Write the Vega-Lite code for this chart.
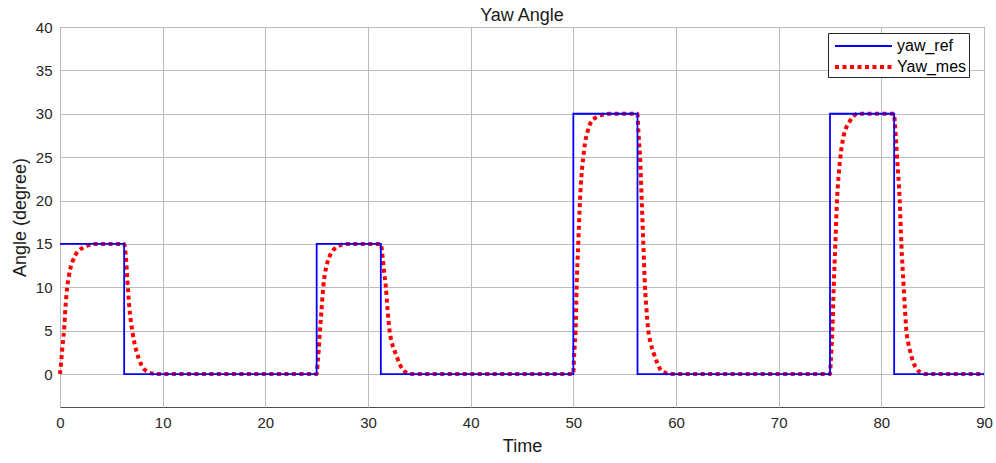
{
  "$schema": "https://vega.github.io/schema/vega-lite/v6.json",
  "width": 924,
  "height": 380,
  "autosize": {"type": "none"},
  "padding": {"left": 60, "top": 27, "right": 12, "bottom": 56},
  "background": "white",
  "title": {
    "text": "Yaw Angle",
    "fontSize": 18,
    "fontWeight": "normal",
    "font": "Liberation Sans",
    "color": "#1a1a1a",
    "offset": -5
  },
  "config": {
    "view": {"stroke": "#4d4d4d", "strokeWidth": 1},
    "axis": {
      "labelFont": "Liberation Sans",
      "labelFontSize": 15,
      "labelColor": "#262626",
      "titleFont": "Liberation Sans",
      "titleFontSize": 18,
      "titleFontWeight": "normal",
      "titleColor": "#1a1a1a",
      "gridColor": "#bdbdbd",
      "gridWidth": 1,
      "domain": false,
      "ticks": false
    }
  },
  "datasets": {
    "yaw": [
      {"t": 0, "angle": 15, "series": "yaw_ref"},
      {"t": 6.25, "angle": 0, "series": "yaw_ref"},
      {"t": 25, "angle": 15, "series": "yaw_ref"},
      {"t": 31.25, "angle": 0, "series": "yaw_ref"},
      {"t": 50, "angle": 30, "series": "yaw_ref"},
      {"t": 56.25, "angle": 0, "series": "yaw_ref"},
      {"t": 75, "angle": 30, "series": "yaw_ref"},
      {"t": 81.25, "angle": 0, "series": "yaw_ref"},
      {"t": 90, "angle": 0, "series": "yaw_ref"},

      {"t": 0, "angle": 0, "series": "Yaw_mes"},
      {"t": 0.1, "angle": 1.2, "series": "Yaw_mes"},
      {"t": 0.2, "angle": 2.6, "series": "Yaw_mes"},
      {"t": 0.3, "angle": 3.9, "series": "Yaw_mes"},
      {"t": 0.4, "angle": 5.1, "series": "Yaw_mes"},
      {"t": 0.52, "angle": 7.5, "series": "Yaw_mes"},
      {"t": 0.7, "angle": 10, "series": "Yaw_mes"},
      {"t": 0.85, "angle": 11.2, "series": "Yaw_mes"},
      {"t": 1.0, "angle": 12.1, "series": "Yaw_mes"},
      {"t": 1.2, "angle": 12.9, "series": "Yaw_mes"},
      {"t": 1.45, "angle": 13.6, "series": "Yaw_mes"},
      {"t": 1.8, "angle": 14.2, "series": "Yaw_mes"},
      {"t": 2.3, "angle": 14.6, "series": "Yaw_mes"},
      {"t": 2.8, "angle": 14.85, "series": "Yaw_mes"},
      {"t": 3.3, "angle": 15, "series": "Yaw_mes"},
      {"t": 6.25, "angle": 15, "series": "Yaw_mes"},
      {"t": 6.35, "angle": 14.3, "series": "Yaw_mes"},
      {"t": 6.45, "angle": 13.0, "series": "Yaw_mes"},
      {"t": 6.55, "angle": 11.0, "series": "Yaw_mes"},
      {"t": 6.65, "angle": 9.3, "series": "Yaw_mes"},
      {"t": 6.75, "angle": 7.7, "series": "Yaw_mes"},
      {"t": 6.9, "angle": 6.1, "series": "Yaw_mes"},
      {"t": 7.05, "angle": 4.9, "series": "Yaw_mes"},
      {"t": 7.25, "angle": 3.6, "series": "Yaw_mes"},
      {"t": 7.45, "angle": 2.6, "series": "Yaw_mes"},
      {"t": 7.7, "angle": 1.7, "series": "Yaw_mes"},
      {"t": 7.95, "angle": 1.0, "series": "Yaw_mes"},
      {"t": 8.25, "angle": 0.5, "series": "Yaw_mes"},
      {"t": 8.6, "angle": 0.2, "series": "Yaw_mes"},
      {"t": 9.0, "angle": 0.06, "series": "Yaw_mes"},
      {"t": 9.4, "angle": 0, "series": "Yaw_mes"},
      {"t": 25, "angle": 0, "series": "Yaw_mes"},
      {"t": 25.1, "angle": 1.3, "series": "Yaw_mes"},
      {"t": 25.2, "angle": 2.8, "series": "Yaw_mes"},
      {"t": 25.32, "angle": 5, "series": "Yaw_mes"},
      {"t": 25.45, "angle": 7, "series": "Yaw_mes"},
      {"t": 25.64, "angle": 10, "series": "Yaw_mes"},
      {"t": 25.8, "angle": 11.5, "series": "Yaw_mes"},
      {"t": 25.97, "angle": 12.5, "series": "Yaw_mes"},
      {"t": 26.2, "angle": 13.4, "series": "Yaw_mes"},
      {"t": 26.45, "angle": 14.0, "series": "Yaw_mes"},
      {"t": 26.8, "angle": 14.5, "series": "Yaw_mes"},
      {"t": 27.2, "angle": 14.8, "series": "Yaw_mes"},
      {"t": 27.6, "angle": 14.95, "series": "Yaw_mes"},
      {"t": 28.0, "angle": 15, "series": "Yaw_mes"},
      {"t": 31.25, "angle": 15, "series": "Yaw_mes"},
      {"t": 31.35, "angle": 14.3, "series": "Yaw_mes"},
      {"t": 31.45, "angle": 13.2, "series": "Yaw_mes"},
      {"t": 31.55, "angle": 12, "series": "Yaw_mes"},
      {"t": 31.74, "angle": 10, "series": "Yaw_mes"},
      {"t": 31.9, "angle": 7.5, "series": "Yaw_mes"},
      {"t": 32.1, "angle": 5, "series": "Yaw_mes"},
      {"t": 32.3, "angle": 3.7, "series": "Yaw_mes"},
      {"t": 32.55, "angle": 2.8, "series": "Yaw_mes"},
      {"t": 32.8, "angle": 2.0, "series": "Yaw_mes"},
      {"t": 33.1, "angle": 1.1, "series": "Yaw_mes"},
      {"t": 33.4, "angle": 0.5, "series": "Yaw_mes"},
      {"t": 33.75, "angle": 0.15, "series": "Yaw_mes"},
      {"t": 34.1, "angle": 0, "series": "Yaw_mes"},
      {"t": 50, "angle": 0, "series": "Yaw_mes"},
      {"t": 50.05, "angle": 1.5, "series": "Yaw_mes"},
      {"t": 50.12, "angle": 3, "series": "Yaw_mes"},
      {"t": 50.22, "angle": 5, "series": "Yaw_mes"},
      {"t": 50.32, "angle": 10, "series": "Yaw_mes"},
      {"t": 50.48, "angle": 15, "series": "Yaw_mes"},
      {"t": 50.65, "angle": 20, "series": "Yaw_mes"},
      {"t": 50.8, "angle": 23, "series": "Yaw_mes"},
      {"t": 50.97, "angle": 25, "series": "Yaw_mes"},
      {"t": 51.15, "angle": 26.7, "series": "Yaw_mes"},
      {"t": 51.4, "angle": 28, "series": "Yaw_mes"},
      {"t": 51.7, "angle": 29, "series": "Yaw_mes"},
      {"t": 52.1, "angle": 29.5, "series": "Yaw_mes"},
      {"t": 52.6, "angle": 29.8, "series": "Yaw_mes"},
      {"t": 53.1, "angle": 29.95, "series": "Yaw_mes"},
      {"t": 53.5, "angle": 30, "series": "Yaw_mes"},
      {"t": 56.25, "angle": 30, "series": "Yaw_mes"},
      {"t": 56.3, "angle": 28.8, "series": "Yaw_mes"},
      {"t": 56.4, "angle": 26.8, "series": "Yaw_mes"},
      {"t": 56.5, "angle": 25, "series": "Yaw_mes"},
      {"t": 56.66, "angle": 20, "series": "Yaw_mes"},
      {"t": 56.82, "angle": 15, "series": "Yaw_mes"},
      {"t": 56.98, "angle": 10, "series": "Yaw_mes"},
      {"t": 57.1, "angle": 7.8, "series": "Yaw_mes"},
      {"t": 57.3, "angle": 5, "series": "Yaw_mes"},
      {"t": 57.5, "angle": 3.7, "series": "Yaw_mes"},
      {"t": 57.8, "angle": 2.5, "series": "Yaw_mes"},
      {"t": 58.1, "angle": 1.5, "series": "Yaw_mes"},
      {"t": 58.5, "angle": 0.5, "series": "Yaw_mes"},
      {"t": 58.9, "angle": 0.18, "series": "Yaw_mes"},
      {"t": 59.4, "angle": 0, "series": "Yaw_mes"},
      {"t": 75, "angle": 0, "series": "Yaw_mes"},
      {"t": 75.08, "angle": 1.5, "series": "Yaw_mes"},
      {"t": 75.15, "angle": 3, "series": "Yaw_mes"},
      {"t": 75.23, "angle": 5, "series": "Yaw_mes"},
      {"t": 75.36, "angle": 10, "series": "Yaw_mes"},
      {"t": 75.52, "angle": 15, "series": "Yaw_mes"},
      {"t": 75.68, "angle": 20, "series": "Yaw_mes"},
      {"t": 75.85, "angle": 23, "series": "Yaw_mes"},
      {"t": 76.01, "angle": 25, "series": "Yaw_mes"},
      {"t": 76.15, "angle": 26.3, "series": "Yaw_mes"},
      {"t": 76.34, "angle": 27.5, "series": "Yaw_mes"},
      {"t": 76.55, "angle": 28.3, "series": "Yaw_mes"},
      {"t": 76.86, "angle": 29, "series": "Yaw_mes"},
      {"t": 77.2, "angle": 29.6, "series": "Yaw_mes"},
      {"t": 77.7, "angle": 30, "series": "Yaw_mes"},
      {"t": 81.25, "angle": 30, "series": "Yaw_mes"},
      {"t": 81.3, "angle": 29.2, "series": "Yaw_mes"},
      {"t": 81.4, "angle": 27.5, "series": "Yaw_mes"},
      {"t": 81.53, "angle": 25, "series": "Yaw_mes"},
      {"t": 81.79, "angle": 20, "series": "Yaw_mes"},
      {"t": 81.95, "angle": 15, "series": "Yaw_mes"},
      {"t": 82.18, "angle": 10, "series": "Yaw_mes"},
      {"t": 82.3, "angle": 7.5, "series": "Yaw_mes"},
      {"t": 82.44, "angle": 5, "series": "Yaw_mes"},
      {"t": 82.6, "angle": 3.7, "series": "Yaw_mes"},
      {"t": 82.83, "angle": 2.5, "series": "Yaw_mes"},
      {"t": 83.1, "angle": 1.4, "series": "Yaw_mes"},
      {"t": 83.5, "angle": 0.5, "series": "Yaw_mes"},
      {"t": 83.9, "angle": 0.15, "series": "Yaw_mes"},
      {"t": 84.3, "angle": 0, "series": "Yaw_mes"},
      {"t": 90, "angle": 0, "series": "Yaw_mes"}
    ]
  },
  "data": {"name": "yaw"},
  "encoding": {
    "x": {
      "field": "t",
      "type": "quantitative",
      "title": "Time",
      "scale": {"domain": [0, 90], "nice": false, "zero": false},
      "axis": {"values": [0, 10, 20, 30, 40, 50, 60, 70, 80, 90], "labelPadding": 8, "titlePadding": 7, "labelFlush": false}
    },
    "y": {
      "field": "angle",
      "type": "quantitative",
      "title": "Angle (degree)",
      "scale": {"domain": [-3.8, 40], "nice": false, "zero": false},
      "axis": {"values": [0, 5, 10, 15, 20, 25, 30, 35, 40], "labelPadding": 8, "titlePadding": 6, "labelFlush": false}
    },
    "color": {
      "field": "series",
      "type": "nominal",
      "title": null,
      "scale": {"domain": ["yaw_ref", "Yaw_mes"], "range": ["#0000ff", "#ff0000"]},
      "legend": {
        "orient": "none",
        "legendX": 768,
        "legendY": 6,
        "fillColor": "white",
        "strokeColor": "#262626",
        "padding": 2,
        "symbolType": "M-0.7,0H5",
        "symbolSize": 400,
        "symbolFillColor": "transparent",
        "labelFont": "Liberation Sans",
        "labelFontSize": 16,
        "labelColor": "#000000",
        "labelOffset": 43,
        "rowPadding": 1
      }
    },
    "strokeDash": {
      "field": "series",
      "type": "nominal",
      "title": null,
      "scale": {"domain": ["yaw_ref", "Yaw_mes"], "range": [[1, 0], [4, 3.5]]}
    },
    "strokeWidth": {
      "field": "series",
      "type": "nominal",
      "title": null,
      "scale": {"domain": ["yaw_ref", "Yaw_mes"], "range": [1.8, 4]}
    }
  },
  "layer": [
    {
      "transform": [{"filter": "datum.series === 'Yaw_mes'"}],
      "mark": {"type": "line", "interpolate": "monotone", "strokeCap": "butt"}
    },
    {
      "transform": [{"filter": "datum.series === 'yaw_ref'"}],
      "mark": {"type": "line", "interpolate": "step-after"}
    }
  ]
}
